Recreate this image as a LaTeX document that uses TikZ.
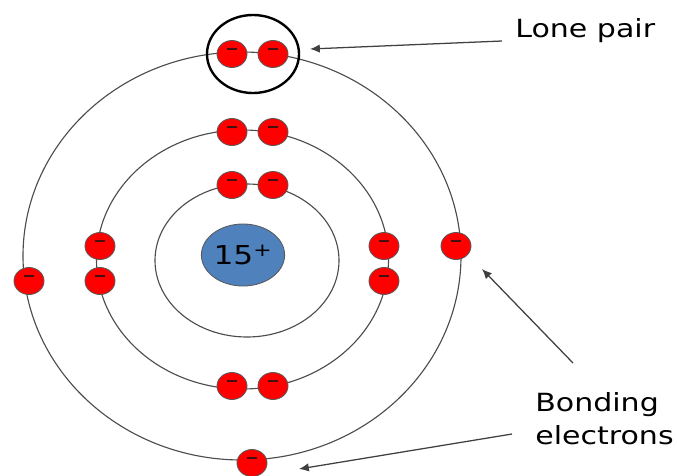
\documentclass[tikz,border=0pt]{standalone}
\usepackage{fontspec}
\setmainfont{DejaVu Sans}
\usetikzlibrary{arrows.meta,positioning,shapes.geometric}
\definecolor{nucblue}{RGB}{79,129,189}
\definecolor{minusdark}{RGB}{70,15,15}

\begin{document}
\begin{tikzpicture}[x=0.025cm, y=-0.025cm, every node/.style={font=\fontsize{17.8}{23.4}\selectfont}, orbit/.style={draw=black!70,line width=0.8pt}, elec/.style={ellipse,draw=black!65,line width=0.6pt,fill=red,minimum width=0.75cm,minimum height=0.675cm,inner sep=0pt,path picture={\draw[minusdark,line width=1.4pt] ([xshift=-0.13cm,yshift=0.12cm]path picture bounding box.center) -- ++(0.26cm,0);}}, ring/.style={ellipse,draw=black,line width=1.7pt,minimum width=2.3cm,minimum height=1.95cm,inner sep=0pt}, lbl/.style={inner sep=0pt,align=left}, arr/.style={-{Latex[length=7pt,width=6pt]},draw=black!75,line width=0.9pt}]
\useasboundingbox (0,0) rectangle (677,475);
\draw[orbit] (242,256) ellipse [x radius=219, y radius=204];
\draw[orbit] (242.5,259.5) ellipse [x radius=146, y radius=129.5];
\draw[orbit] (247,260.5) ellipse [x radius=92, y radius=76.5];
\node[ellipse,draw=black!65,line width=0.6pt,fill=nucblue,minimum width=1.75cm,minimum height=1.55cm,inner sep=0pt] (nuc) at (243,255) {\fontsize{18.5}{22}\selectfont\scalebox{1.2}[1]{15\textsuperscript{+}}};
\node[elec] (itop1) at (232,185) {};
\node[elec] (itop2) at (273,185) {};
\node[elec] (mtop1) at (232,132) {};
\node[elec] (mtop2) at (273,132) {};
\node[elec] (mleft1) at (100,246) {};
\node[elec] (mleft2) at (100,281) {};
\node[elec] (mright1) at (384,246) {};
\node[elec] (mright2) at (384,281) {};
\node[elec] (mbot1) at (232,386) {};
\node[elec] (mbot2) at (273,386) {};
\node[elec] (otop1) at (232,54) {};
\node[elec] (otop2) at (273,54) {};
\node[elec] (oright) at (456,246) {};
\node[elec] (oleft) at (29,281) {};
\node[elec] (obot) at (252,463) {};
\node[ring] (pair) at (253,54) {};
\node[lbl,anchor=base west] (lone) at (515,37) {\scalebox{1.2}[1]{Lone pair}};
\node[lbl,anchor=north west] (bond) at (535,392) {\scalebox{1.2}[1]{Bonding}\\\scalebox{1.2}[1]{electrons}};
\coordinate (lonetail) at (502,41);
\coordinate (lonetip) at (310,49);
\coordinate (bondtailA) at (573,363);
\coordinate (bondtipA) at (482,269);
\coordinate (bondtailB) at (512,434);
\coordinate (bondtipB) at (299,469);
\draw[arr] (lonetail) -- (lonetip);
\draw[arr] (bondtailA) -- (bondtipA);
\draw[arr] (bondtailB) -- (bondtipB);
\end{tikzpicture}
\end{document}
